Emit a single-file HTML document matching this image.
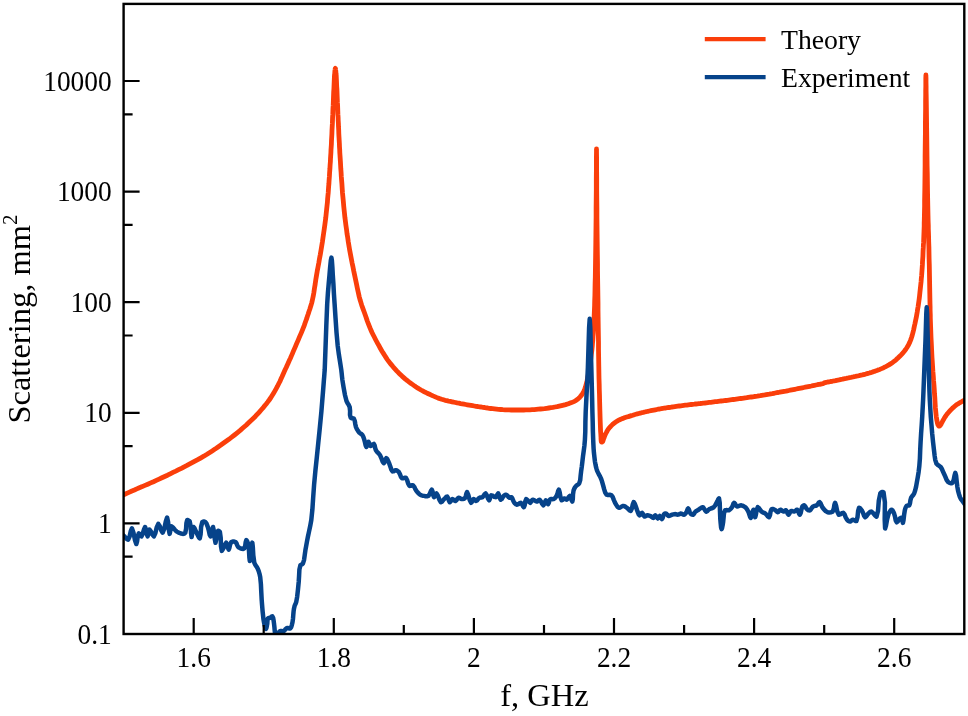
<!DOCTYPE html>
<html lang="en"><head><meta charset="utf-8"><title>Scattering vs frequency</title>
<style>html,body{margin:0;padding:0;background:#fff;}svg{display:block;}text{font-family:"Liberation Serif","Times New Roman",serif;fill:#000;}</style></head><body>
<svg width="968" height="716" viewBox="0 0 968 716">
<rect width="968" height="716" fill="#fff"/>
<defs><clipPath id="c"><rect x="123.6" y="3.9" width="840.7" height="630.1"/></clipPath></defs>
<g clip-path="url(#c)" fill="none" stroke-linejoin="round" stroke-linecap="round" stroke-width="4.8">
<path d="M121.0,495.8 L121.4,495.6 L121.8,495.5 L122.2,495.3 L122.7,495.1 L123.1,494.9 L123.7,494.7 L125.3,494.0 L127.3,493.1 L129.5,492.1 L131.9,491.0 L134.4,490.0 L136.8,488.9 L139.4,487.7 L142.2,486.6 L145.0,485.4 L147.8,484.2 L150.7,482.9 L153.5,481.7 L156.3,480.4 L159.1,479.1 L161.9,477.8 L164.7,476.5 L167.5,475.2 L170.2,473.8 L173.0,472.4 L175.8,471.1 L178.6,469.7 L181.4,468.3 L184.2,466.8 L187.0,465.4 L189.8,463.9 L192.6,462.4 L195.4,460.9 L198.2,459.4 L201.0,457.8 L203.8,456.2 L206.6,454.5 L209.4,452.7 L212.2,450.9 L215.0,449.1 L217.7,447.2 L220.5,445.3 L223.3,443.3 L226.1,441.3 L228.9,439.3 L231.7,437.2 L234.5,435.0 L237.2,432.8 L240.2,430.4 L243.1,427.8 L246.1,425.2 L248.9,422.5 L251.6,420.0 L254.0,417.7 L255.5,416.2 L256.9,414.7 L258.2,413.3 L259.5,411.9 L260.7,410.5 L262.0,409.0 L263.5,407.3 L264.9,405.5 L266.4,403.7 L267.8,401.9 L269.2,400.0 L270.6,398.0 L272.0,395.8 L273.4,393.5 L274.8,391.1 L276.2,388.6 L277.5,386.2 L278.7,383.8 L279.9,381.5 L280.9,379.1 L282.0,376.8 L283.0,374.5 L284.1,372.1 L285.1,369.8 L286.2,367.5 L287.2,365.2 L288.3,362.9 L289.3,360.5 L290.4,358.2 L291.4,355.9 L292.4,353.6 L293.4,351.2 L294.4,348.9 L295.4,346.6 L296.4,344.2 L297.4,341.9 L298.4,339.6 L299.4,337.2 L300.4,334.9 L301.4,332.6 L302.4,330.2 L303.3,327.9 L304.2,325.6 L305.0,323.3 L305.8,321.0 L306.7,318.6 L307.4,316.3 L308.2,314.0 L308.9,311.7 L309.7,309.5 L310.4,307.3 L311.1,305.0 L311.8,302.6 L312.4,300.0 L313.2,296.3 L313.9,292.4 L314.5,288.2 L315.2,284.0 L315.8,279.7 L316.5,275.5 L317.2,271.3 L318.0,267.1 L318.8,262.9 L319.5,258.7 L320.3,254.5 L321.0,250.3 L321.7,246.1 L322.4,241.9 L323.0,237.7 L323.6,233.5 L324.2,229.3 L324.8,225.2 L325.3,221.3 L325.8,217.4 L326.2,213.5 L326.6,209.7 L327.0,205.9 L327.4,202.3 L327.6,199.1 L327.9,196.0 L328.2,193.0 L328.4,190.0 L328.6,187.0 L328.9,183.8 L329.1,180.2 L329.4,176.4 L329.6,172.6 L329.9,168.8 L330.1,165.1 L330.4,161.5 L330.5,158.5 L330.7,155.5 L330.9,152.6 L331.0,149.7 L331.2,146.8 L331.4,143.8 L331.5,140.5 L331.7,137.1 L331.9,133.6 L332.0,130.2 L332.2,126.7 L332.4,123.4 L332.5,120.3 L332.6,117.2 L332.8,114.2 L332.9,111.1 L333.0,108.2 L333.2,105.2 L333.3,102.4 L333.4,99.7 L333.5,97.0 L333.6,94.3 L333.7,91.6 L333.9,89.0 L334.0,86.6 L334.1,84.1 L334.2,81.7 L334.3,79.4 L334.4,77.2 L334.5,75.2 L334.7,73.8 L334.8,72.3 L334.9,70.8 L335.1,69.6 L335.2,68.7 L335.4,68.4 L335.5,68.7 L335.6,69.6 L335.8,70.8 L335.9,72.3 L336.0,73.8 L336.2,75.2 L336.3,77.2 L336.4,79.4 L336.5,81.7 L336.6,84.1 L336.7,86.6 L336.9,89.0 L337.0,91.6 L337.1,94.3 L337.2,97.0 L337.3,99.7 L337.4,102.4 L337.6,105.2 L337.7,108.2 L337.8,111.1 L337.9,114.2 L338.1,117.2 L338.2,120.3 L338.4,123.4 L338.5,126.7 L338.7,130.2 L338.8,133.6 L339.0,137.1 L339.2,140.5 L339.4,143.8 L339.5,146.8 L339.7,149.7 L339.8,152.6 L340.0,155.5 L340.2,158.5 L340.4,161.5 L340.6,165.1 L340.8,168.8 L341.1,172.6 L341.3,176.4 L341.6,180.2 L341.9,183.8 L342.1,187.0 L342.3,190.0 L342.5,193.0 L342.8,196.0 L343.1,199.1 L343.4,202.3 L343.7,205.9 L344.1,209.7 L344.5,213.5 L344.9,217.4 L345.4,221.3 L345.9,225.2 L346.5,229.3 L347.0,233.5 L347.7,237.7 L348.3,241.9 L349.0,246.1 L349.7,250.3 L350.5,254.5 L351.3,258.7 L352.1,262.9 L353.0,267.1 L353.8,271.3 L354.7,275.5 L355.6,279.7 L356.5,284.1 L357.4,288.4 L358.3,292.6 L359.2,296.6 L360.2,300.3 L361.0,302.8 L361.7,305.2 L362.5,307.4 L363.3,309.6 L364.1,311.8 L364.9,314.0 L365.7,316.3 L366.5,318.6 L367.3,321.0 L368.2,323.3 L369.1,325.6 L370.0,327.9 L371.0,330.2 L372.0,332.5 L373.1,334.7 L374.3,337.0 L375.4,339.2 L376.6,341.5 L377.9,343.9 L379.3,346.3 L380.6,348.8 L382.0,351.2 L383.4,353.4 L384.7,355.5 L385.6,356.9 L386.4,358.2 L387.2,359.4 L388.1,360.6 L389.0,361.8 L390.0,363.1 L391.5,364.9 L393.1,366.8 L394.9,368.8 L396.7,370.8 L398.5,372.7 L400.3,374.5 L402.0,376.1 L403.7,377.6 L405.4,379.1 L407.2,380.5 L408.9,381.9 L410.7,383.2 L412.4,384.4 L414.1,385.6 L415.8,386.8 L417.5,387.9 L419.3,389.0 L421.0,390.0 L422.7,390.9 L424.4,391.8 L426.1,392.7 L427.8,393.5 L429.6,394.3 L431.3,395.1 L433.0,395.9 L434.7,396.6 L436.5,397.4 L438.2,398.1 L440.0,398.7 L441.7,399.3 L443.4,399.8 L445.1,400.3 L446.8,400.7 L448.6,401.1 L450.3,401.4 L452.0,401.8 L453.7,402.2 L455.4,402.5 L457.1,402.9 L458.9,403.2 L460.6,403.6 L462.3,403.9 L464.0,404.2 L465.7,404.5 L467.4,404.8 L469.2,405.1 L470.9,405.4 L472.6,405.7 L474.3,406.0 L476.1,406.3 L477.8,406.5 L479.6,406.8 L481.3,407.0 L483.0,407.3 L484.6,407.5 L486.1,407.8 L487.7,408.0 L489.2,408.3 L490.8,408.5 L492.5,408.7 L494.5,408.9 L496.5,409.1 L498.6,409.3 L500.8,409.5 L502.9,409.7 L505.0,409.8 L507.1,409.9 L509.2,409.9 L511.2,410.0 L513.3,410.0 L515.4,410.0 L517.5,410.0 L519.6,410.0 L521.7,410.0 L523.8,410.0 L525.8,409.9 L527.9,409.9 L530.0,409.8 L532.1,409.7 L534.2,409.6 L536.3,409.4 L538.3,409.2 L540.4,409.0 L542.5,408.8 L544.6,408.6 L546.7,408.3 L548.8,408.0 L550.8,407.7 L552.9,407.4 L555.0,407.0 L557.1,406.6 L559.3,406.1 L561.5,405.6 L563.6,405.1 L565.6,404.6 L567.5,404.0 L568.9,403.6 L570.2,403.1 L571.5,402.6 L572.7,402.1 L573.9,401.6 L575.0,401.0 L575.9,400.4 L576.8,399.8 L577.7,399.2 L578.5,398.5 L579.3,397.8 L580.0,397.0 L580.7,396.2 L581.4,395.3 L582.0,394.4 L582.6,393.5 L583.2,392.5 L583.8,391.5 L584.3,390.2 L584.8,388.9 L585.3,387.5 L585.7,386.0 L586.1,384.5 L586.5,383.0 L587.0,381.1 L587.4,379.2 L587.8,377.2 L588.2,375.2 L588.6,373.1 L589.0,371.0 L589.4,368.7 L589.7,366.5 L590.1,364.2 L590.4,361.8 L590.7,359.4 L591.0,357.0 L591.3,354.3 L591.7,351.5 L592.0,348.7 L592.3,345.8 L592.5,342.9 L592.8,340.0 L593.0,336.8 L593.3,333.6 L593.5,330.4 L593.7,327.0 L593.8,323.6 L594.0,320.0 L594.2,315.4 L594.4,310.6 L594.6,305.6 L594.7,300.5 L594.9,295.3 L595.0,290.0 L595.1,283.7 L595.3,277.3 L595.4,270.6 L595.5,263.9 L595.6,257.0 L595.7,250.0 L595.8,242.0 L595.9,233.8 L596.0,225.4 L596.1,216.9 L596.1,208.4 L596.2,200.0 L596.3,190.3 L596.3,179.3 L596.4,168.2 L596.4,158.5 L596.5,151.6 L596.5,149.0 L596.5,151.6 L596.6,158.5 L596.6,168.2 L596.7,179.3 L596.7,190.3 L596.8,200.0 L596.9,208.4 L596.9,216.9 L597.0,225.4 L597.1,233.8 L597.2,242.0 L597.3,250.0 L597.4,256.9 L597.5,263.7 L597.5,270.3 L597.6,276.8 L597.7,283.4 L597.8,290.0 L597.9,296.7 L598.0,303.4 L598.0,310.1 L598.1,316.8 L598.2,323.4 L598.3,330.0 L598.4,336.3 L598.5,342.5 L598.5,348.7 L598.6,354.9 L598.7,361.0 L598.8,367.0 L598.9,372.7 L599.0,378.4 L599.2,384.1 L599.3,389.6 L599.5,395.0 L599.6,400.0 L599.7,403.8 L599.8,407.5 L599.9,411.0 L600.0,414.4 L600.1,417.8 L600.2,421.0 L600.3,423.7 L600.4,426.4 L600.5,429.1 L600.6,431.6 L600.8,433.9 L600.9,436.0 L601.0,437.3 L601.0,438.6 L601.1,439.9 L601.2,440.9 L601.3,441.7 L601.6,442.1 L601.7,442.1 L601.9,442.1 L602.1,442.0 L602.3,441.9 L602.4,441.8 L602.6,441.6 L602.8,441.3 L603.0,440.9 L603.1,440.4 L603.3,439.9 L603.4,439.3 L603.6,438.8 L603.9,438.1 L604.2,437.3 L604.5,436.5 L604.8,435.7 L605.1,434.9 L605.5,434.1 L605.9,433.2 L606.4,432.4 L606.9,431.5 L607.4,430.6 L607.9,429.8 L608.4,429.0 L608.9,428.4 L609.4,427.8 L609.9,427.2 L610.4,426.7 L610.9,426.1 L611.4,425.6 L611.9,425.1 L612.4,424.6 L612.9,424.2 L613.4,423.7 L614.0,423.3 L614.6,422.8 L615.5,422.2 L616.4,421.6 L617.5,420.9 L618.5,420.3 L619.7,419.8 L620.8,419.2 L622.2,418.6 L623.7,418.1 L625.2,417.5 L626.7,417.0 L628.3,416.6 L629.8,416.1 L631.3,415.6 L632.8,415.2 L634.3,414.7 L635.8,414.3 L637.3,413.9 L638.8,413.5 L640.3,413.1 L641.8,412.7 L643.3,412.4 L644.8,412.0 L646.3,411.7 L647.8,411.3 L649.3,411.0 L650.8,410.7 L652.3,410.4 L653.8,410.1 L655.3,409.8 L656.8,409.5 L658.3,409.2 L659.8,409.0 L661.3,408.7 L662.8,408.4 L664.3,408.2 L665.8,408.0 L667.3,407.7 L668.8,407.5 L670.3,407.3 L671.8,407.0 L673.3,406.8 L674.8,406.6 L676.3,406.4 L677.8,406.2 L679.3,406.0 L680.8,405.8 L682.3,405.6 L683.8,405.4 L685.3,405.2 L686.8,405.1 L688.3,404.9 L689.8,404.7 L691.3,404.5 L692.8,404.3 L694.3,404.2 L695.8,404.0 L697.3,403.8 L698.8,403.6 L700.3,403.5 L701.8,403.3 L703.3,403.1 L704.8,403.0 L706.3,402.8 L707.8,402.6 L709.3,402.4 L710.8,402.3 L712.3,402.1 L713.8,401.9 L715.3,401.7 L716.8,401.6 L718.3,401.4 L719.8,401.2 L721.3,401.0 L722.8,400.9 L724.3,400.7 L725.8,400.5 L727.3,400.3 L728.8,400.1 L730.3,399.9 L731.8,399.7 L733.3,399.5 L734.8,399.3 L736.3,399.1 L737.8,398.9 L739.3,398.7 L740.8,398.5 L742.3,398.3 L743.8,398.1 L745.3,397.9 L746.8,397.7 L748.3,397.4 L749.8,397.2 L751.3,397.0 L752.8,396.8 L754.3,396.5 L755.8,396.3 L757.3,396.1 L758.8,395.8 L760.3,395.6 L761.8,395.3 L763.3,395.1 L764.8,394.9 L766.3,394.6 L767.8,394.3 L769.3,394.1 L770.8,393.8 L772.3,393.6 L773.8,393.3 L775.3,393.0 L776.8,392.7 L778.3,392.5 L779.8,392.2 L781.3,391.9 L782.8,391.6 L784.3,391.3 L785.8,391.1 L787.3,390.8 L788.8,390.5 L790.3,390.2 L791.8,389.9 L793.3,389.6 L794.8,389.3 L796.3,389.0 L797.8,388.7 L799.3,388.4 L800.8,388.1 L802.3,387.8 L803.8,387.5 L805.3,387.2 L806.8,386.9 L808.3,386.6 L809.8,386.3 L811.3,386.0 L812.9,385.6 L814.5,385.3 L816.0,385.0 L817.5,384.7 L818.8,384.4 L819.7,384.3 L820.5,384.1 L821.3,384.0 L822.0,383.8 L822.7,383.7 L823.2,383.5 L823.4,383.4 L823.6,383.3 L823.7,383.2 L823.8,383.1 L824.0,383.0 L824.2,382.9 L825.1,382.6 L826.3,382.3 L827.7,382.0 L829.2,381.8 L830.6,381.5 L832.0,381.3 L833.2,381.0 L834.4,380.8 L835.5,380.6 L836.7,380.3 L837.8,380.1 L839.0,379.9 L840.2,379.6 L841.3,379.4 L842.5,379.2 L843.7,378.9 L844.8,378.7 L846.0,378.5 L847.2,378.2 L848.3,378.0 L849.5,377.7 L850.7,377.5 L851.8,377.2 L853.0,377.0 L854.2,376.7 L855.3,376.5 L856.5,376.2 L857.7,376.0 L858.8,375.7 L860.0,375.4 L861.2,375.1 L862.3,374.9 L863.5,374.6 L864.7,374.3 L865.8,374.0 L867.0,373.6 L868.2,373.3 L869.3,373.0 L870.5,372.6 L871.7,372.3 L872.8,371.9 L874.0,371.5 L875.2,371.1 L876.3,370.7 L877.5,370.3 L878.7,369.8 L879.8,369.4 L881.0,368.9 L882.2,368.4 L883.4,367.8 L884.6,367.2 L885.8,366.6 L886.9,366.0 L888.0,365.4 L888.9,364.9 L889.7,364.4 L890.5,363.9 L891.4,363.4 L892.2,362.8 L893.0,362.2 L894.0,361.4 L895.1,360.6 L896.1,359.7 L897.1,358.7 L898.2,357.8 L899.2,356.8 L900.3,355.7 L901.4,354.6 L902.5,353.4 L903.5,352.2 L904.5,351.0 L905.4,349.8 L906.1,348.8 L906.8,347.7 L907.4,346.7 L908.0,345.7 L908.6,344.7 L909.1,343.6 L909.6,342.6 L910.0,341.6 L910.4,340.7 L910.8,339.7 L911.2,338.5 L911.6,337.3 L912.3,335.0 L913.0,332.3 L913.7,329.5 L914.3,326.5 L915.0,323.5 L915.6,320.6 L916.2,317.8 L916.7,315.0 L917.2,312.2 L917.6,309.4 L918.1,306.6 L918.5,303.8 L918.9,301.0 L919.3,298.2 L919.6,295.4 L919.9,292.6 L920.2,289.8 L920.5,287.0 L920.8,284.2 L921.1,281.4 L921.3,278.7 L921.6,275.9 L921.8,273.1 L922.0,270.3 L922.2,267.5 L922.4,264.7 L922.5,261.9 L922.7,259.1 L922.9,256.3 L923.0,253.5 L923.1,250.7 L923.3,247.9 L923.4,245.2 L923.6,242.4 L923.7,239.6 L923.8,236.8 L923.9,234.1 L924.0,231.4 L924.1,228.7 L924.2,226.0 L924.2,223.1 L924.3,220.0 L924.4,215.6 L924.5,210.9 L924.6,206.0 L924.6,200.9 L924.7,195.5 L924.8,190.0 L924.9,182.4 L925.0,174.2 L925.1,165.6 L925.1,156.9 L925.2,148.3 L925.3,140.0 L925.4,132.2 L925.4,124.2 L925.5,116.2 L925.6,108.6 L925.6,101.4 L925.7,95.0 L925.7,90.7 L925.8,86.3 L925.8,82.0 L925.8,78.4 L925.9,75.9 L925.9,75.0 L925.9,75.9 L926.0,78.4 L926.0,82.0 L926.1,86.3 L926.1,90.7 L926.2,95.0 L926.3,101.4 L926.4,108.6 L926.5,116.2 L926.6,124.2 L926.7,132.2 L926.8,140.0 L926.9,148.3 L927.0,156.9 L927.1,165.6 L927.3,174.2 L927.4,182.4 L927.5,190.0 L927.6,195.5 L927.7,200.9 L927.8,206.0 L927.9,210.9 L928.0,215.6 L928.1,220.0 L928.2,223.0 L928.3,225.7 L928.3,228.3 L928.4,231.0 L928.5,233.7 L928.6,236.8 L928.7,241.7 L928.9,247.1 L929.0,252.8 L929.1,258.7 L929.3,264.6 L929.4,270.3 L929.5,276.0 L929.6,281.9 L929.7,287.8 L929.8,293.5 L929.9,298.9 L930.0,303.8 L930.1,306.9 L930.1,309.8 L930.2,312.6 L930.3,315.2 L930.3,317.9 L930.4,320.6 L930.5,323.3 L930.6,326.1 L930.7,328.8 L930.8,331.5 L930.9,334.3 L931.0,337.3 L931.2,341.1 L931.4,345.1 L931.6,349.3 L931.8,353.5 L932.0,357.7 L932.3,362.0 L932.6,366.6 L932.9,371.4 L933.3,376.1 L933.6,380.9 L934.0,385.5 L934.3,390.0 L934.5,393.8 L934.8,397.5 L935.0,401.1 L935.2,404.6 L935.4,408.0 L935.7,411.0 L935.9,413.0 L936.1,415.0 L936.3,416.8 L936.6,418.5 L936.8,420.1 L937.1,421.5 L937.3,422.3 L937.4,423.0 L937.6,423.7 L937.8,424.3 L938.0,424.9 L938.2,425.3 L938.4,425.5 L938.5,425.7 L938.7,425.9 L938.9,426.1 L939.0,426.2 L939.2,426.2 L939.4,426.2 L939.6,426.1 L939.8,425.9 L939.9,425.7 L940.1,425.5 L940.3,425.3 L940.5,425.0 L940.7,424.7 L940.9,424.4 L941.1,424.1 L941.3,423.7 L941.5,423.3 L941.9,422.5 L942.4,421.6 L942.9,420.7 L943.4,419.7 L944.0,418.7 L944.5,417.8 L945.0,417.0 L945.6,416.2 L946.1,415.4 L946.7,414.6 L947.3,413.8 L948.0,413.0 L949.0,411.9 L950.1,410.7 L951.3,409.4 L952.5,408.2 L953.8,407.1 L955.0,406.0 L956.1,405.1 L957.3,404.3 L958.5,403.6 L959.7,402.8 L960.8,402.2 L962.0,401.5 L963.0,400.9 L964.0,400.4 L965.0,399.9 L966.0,399.5 L967.0,399.0 L968.0,398.5" stroke="#FA3E0A"/>
<path d="M122.0,534.0 L122.8,534.8 L123.6,535.6 L124.4,536.4 L125.6,537.7 L127.0,539.1 L128.2,539.6 L129.6,536.5 L130.8,531.1 L131.9,528.3 L133.4,532.4 L134.9,539.9 L136.3,544.0 L137.1,541.3 L137.8,536.2 L138.8,533.3 L139.6,534.1 L140.5,535.6 L141.4,536.4 L142.7,533.9 L144.0,529.4 L145.1,527.0 L146.0,529.5 L146.8,534.0 L147.6,536.4 L148.2,534.6 L148.7,531.4 L149.5,529.5 L150.8,531.3 L152.4,534.6 L153.9,536.4 L155.4,533.1 L156.8,527.1 L158.3,523.9 L159.8,526.2 L161.3,530.5 L162.7,532.7 L164.3,528.7 L165.8,521.4 L167.1,517.6 L168.1,521.9 L168.8,529.7 L169.6,533.9 L170.1,532.0 L170.6,528.5 L171.5,526.4 L172.9,527.3 L174.6,529.5 L176.5,531.4 L178.6,532.6 L180.9,533.5 L182.8,533.9 L183.8,533.8 L184.6,533.4 L185.3,532.7 L186.1,528.7 L186.4,523.3 L187.2,520.1 L188.0,520.1 L188.9,520.6 L189.7,521.4 L190.7,526.5 L191.1,533.5 L191.6,537.1 L192.1,534.5 L192.7,529.7 L193.5,527.0 L194.4,528.0 L195.5,530.4 L196.6,532.7 L197.7,535.0 L198.8,537.3 L199.8,538.3 L200.6,534.3 L201.1,526.9 L202.3,522.0 L203.3,521.6 L204.4,521.6 L205.4,522.0 L206.4,523.3 L207.2,525.4 L208.0,527.6 L208.9,531.0 L209.7,534.7 L210.5,536.4 L211.4,534.0 L212.2,529.4 L213.0,527.0 L213.9,531.1 L214.7,538.6 L215.5,542.7 L216.2,539.7 L217.0,534.1 L218.0,530.8 L218.6,530.8 L219.3,531.3 L219.9,532.0 L220.7,537.9 L221.0,546.4 L221.8,550.9 L223.1,548.8 L224.8,544.8 L226.2,542.7 L227.1,544.5 L227.9,547.8 L228.7,549.6 L229.4,547.9 L230.1,544.5 L231.2,542.1 L232.6,541.6 L234.2,541.6 L235.6,542.1 L236.5,543.4 L237.2,545.3 L238.0,546.8 L238.9,547.6 L239.9,548.1 L240.9,548.5 L242.0,548.8 L243.2,548.9 L244.2,548.5 L245.2,545.9 L245.7,542.1 L246.3,540.1 L247.0,540.9 L247.8,542.8 L248.4,545.1 L249.0,550.9 L249.4,557.8 L249.8,561.1 L250.6,556.3 L251.5,547.4 L252.3,542.6 L252.8,546.8 L253.3,555.4 L254.3,562.7 L255.4,564.9 L256.6,566.7 L257.7,568.6 L258.7,571.1 L259.5,573.8 L260.2,577.0 L260.9,584.1 L261.3,592.5 L261.7,600.0 L262.0,604.0 L262.3,607.6 L262.6,611.2 L263.0,615.0 L263.4,618.8 L264.0,622.3 L264.6,625.2 L265.3,627.8 L265.9,629.0 L266.4,628.0 L266.9,625.7 L267.3,623.5 L267.4,621.6 L267.5,619.7 L267.9,618.4 L268.5,618.1 L269.3,618.1 L270.1,617.9 L270.9,617.3 L271.6,616.5 L272.3,616.2 L273.1,617.7 L273.6,620.5 L274.0,623.5 L274.4,627.0 L274.7,630.6 L275.1,634.0 L275.5,636.6 L275.9,638.9 L276.3,640.0 L276.7,638.8 L277.2,636.3 L277.9,634.0 L278.6,632.8 L279.3,631.7 L280.2,631.0 L281.2,631.0 L282.4,631.3 L283.5,631.3 L284.7,630.3 L285.7,628.9 L286.9,627.9 L288.0,628.0 L289.2,628.5 L290.2,628.5 L291.2,627.1 L291.9,624.8 L292.5,622.3 L293.0,618.7 L293.3,614.7 L293.6,611.2 L293.9,609.1 L294.3,607.3 L294.7,605.6 L295.2,604.5 L295.7,603.5 L296.2,602.1 L297.2,596.6 L298.0,589.2 L298.7,582.0 L299.1,575.7 L299.4,569.5 L300.4,565.3 L301.2,564.6 L302.1,564.3 L302.9,563.6 L304.0,560.1 L304.7,555.2 L305.4,550.2 L306.2,545.8 L307.0,541.4 L307.9,536.8 L309.0,531.6 L310.2,526.1 L311.3,520.0 L312.4,509.3 L313.2,497.2 L314.1,484.7 L315.4,470.8 L316.9,456.5 L318.3,442.8 L319.4,432.0 L320.4,421.7 L321.4,411.4 L322.3,400.3 L323.2,389.2 L323.9,380.0 L324.2,376.6 L324.4,373.8 L324.7,370.0 L325.4,351.2 L326.3,326.0 L327.2,303.8 L327.9,293.1 L328.7,283.6 L329.5,275.0 L330.1,267.6 L330.8,260.7 L331.4,257.6 L331.9,260.7 L332.4,267.6 L332.8,275.0 L333.4,283.9 L333.9,293.5 L334.6,303.8 L335.5,317.6 L336.5,332.3 L337.7,345.7 L338.9,354.7 L340.2,362.9 L341.3,370.0 L341.7,373.5 L342.0,376.6 L342.4,380.0 L343.5,386.9 L344.9,394.7 L346.5,401.0 L347.6,403.3 L348.8,405.1 L349.7,407.2 L350.1,410.9 L350.0,414.9 L350.7,417.7 L351.7,418.2 L352.9,418.3 L353.9,418.7 L354.8,421.0 L355.3,424.2 L356.0,427.1 L356.9,429.1 L358.0,430.9 L359.1,432.4 L360.2,433.3 L361.3,434.0 L362.3,434.9 L363.1,436.3 L363.7,437.9 L364.3,439.7 L365.0,442.5 L365.7,445.6 L366.4,447.0 L367.1,445.7 L367.8,443.2 L368.5,441.8 L369.1,442.8 L369.8,444.8 L370.6,446.0 L371.6,445.5 L372.8,444.4 L373.8,443.9 L374.6,445.3 L375.1,447.8 L375.9,450.2 L377.1,451.9 L378.6,453.4 L380.0,455.1 L381.4,458.2 L382.6,461.6 L383.8,463.2 L384.7,461.9 L385.5,459.5 L386.3,458.2 L387.3,459.2 L388.4,461.5 L389.4,463.9 L390.4,466.7 L391.4,469.7 L392.6,471.4 L393.6,471.2 L394.6,470.6 L395.7,470.2 L396.8,470.5 L397.8,471.1 L398.8,472.0 L399.9,474.1 L400.8,476.6 L402.0,478.3 L403.2,478.3 L404.6,477.7 L405.8,477.7 L407.1,480.0 L408.2,483.6 L409.5,485.9 L410.6,485.8 L411.8,485.3 L412.9,485.2 L414.1,486.6 L415.2,488.8 L416.4,490.9 L417.6,492.4 L418.9,493.7 L420.2,494.7 L421.4,495.3 L422.7,495.7 L424.0,495.9 L425.5,496.2 L427.0,496.3 L428.4,495.9 L429.8,493.8 L430.9,491.0 L431.8,489.6 L432.6,491.6 L433.2,495.2 L434.0,497.2 L434.8,496.3 L435.6,494.4 L436.5,493.4 L437.9,495.7 L439.4,499.8 L440.9,502.2 L442.0,501.7 L443.0,500.4 L444.1,499.1 L445.2,498.0 L446.2,496.9 L447.2,496.5 L448.1,498.1 L448.9,500.7 L449.7,502.2 L450.5,501.5 L451.4,500.0 L452.3,499.1 L453.3,499.6 L454.4,500.5 L455.4,501.0 L456.4,500.2 L457.4,498.7 L458.5,497.8 L459.5,498.0 L460.6,498.7 L461.7,499.1 L462.8,499.1 L463.9,498.9 L464.8,498.4 L465.7,496.3 L466.4,493.5 L467.1,492.1 L468.3,494.8 L469.7,500.0 L471.1,502.8 L471.9,501.9 L472.7,500.1 L473.6,499.1 L474.4,499.5 L475.2,500.5 L476.1,501.0 L477.1,500.3 L478.2,498.9 L479.3,497.8 L480.3,497.5 L481.4,497.5 L482.4,497.2 L483.5,495.9 L484.6,494.2 L485.6,493.4 L486.8,495.3 L488.0,498.6 L489.1,500.3 L489.8,499.1 L490.3,496.8 L491.2,495.3 L492.6,495.7 L494.3,496.8 L495.7,497.2 L496.7,496.0 L497.5,494.3 L498.2,493.4 L499.0,495.0 L499.8,498.0 L500.7,499.7 L501.7,499.0 L502.7,497.3 L503.8,495.9 L504.6,495.3 L505.5,494.8 L506.3,494.7 L507.4,495.5 L508.4,496.9 L509.5,497.8 L510.2,497.7 L510.9,497.3 L511.6,497.2 L512.4,498.4 L513.1,500.4 L513.9,502.2 L514.8,503.3 L515.9,504.2 L517.0,504.7 L518.3,504.2 L519.6,503.2 L520.8,502.8 L522.0,504.1 L523.0,506.2 L523.9,507.2 L524.7,505.1 L525.3,501.3 L526.2,499.1 L527.4,500.0 L528.9,501.8 L530.2,502.8 L531.0,502.0 L531.8,500.6 L532.7,499.7 L534.1,500.1 L535.7,501.1 L537.1,501.6 L538.0,501.0 L538.8,500.1 L539.6,499.7 L540.9,501.3 L542.2,503.9 L543.4,505.3 L544.3,504.0 L545.1,501.6 L545.9,500.3 L546.6,501.3 L547.4,503.1 L548.1,504.1 L548.8,502.9 L549.4,500.7 L550.3,499.1 L551.3,498.9 L552.4,499.2 L553.5,499.1 L554.6,498.4 L555.7,497.2 L556.6,495.9 L557.5,493.5 L558.2,490.8 L558.9,489.6 L559.7,492.3 L560.5,497.3 L561.6,500.3 L562.4,499.9 L563.2,499.0 L564.1,498.4 L565.0,498.7 L565.8,499.4 L566.7,499.7 L567.8,498.6 L568.8,496.8 L569.8,495.9 L570.8,497.5 L571.6,500.2 L572.3,501.6 L572.8,499.2 L573.0,494.5 L573.6,490.3 L574.3,488.6 L575.1,487.1 L576.1,485.9 L577.1,485.1 L578.2,484.4 L579.2,483.4 L580.2,480.2 L580.6,475.9 L581.1,471.4 L581.8,466.5 L582.4,461.4 L583.0,456.3 L583.7,451.1 L584.4,445.8 L584.9,440.0 L585.3,431.4 L585.4,421.9 L585.7,411.7 L586.4,397.6 L587.2,382.4 L587.9,367.0 L588.5,347.5 L589.1,327.8 L589.7,318.8 L590.3,327.8 L590.8,347.5 L591.3,367.0 L591.7,382.4 L592.1,397.6 L592.4,411.7 L592.7,422.0 L592.9,431.6 L593.2,440.0 L593.4,444.6 L593.6,448.6 L593.9,452.6 L594.4,456.9 L594.9,461.3 L595.6,465.1 L596.1,467.4 L596.7,469.4 L597.4,471.4 L598.6,473.9 L600.0,476.4 L601.2,479.0 L602.0,481.4 L602.7,483.9 L603.4,486.4 L604.2,489.4 L605.2,492.5 L606.5,494.6 L608.0,495.0 L609.7,494.8 L611.3,495.2 L612.8,497.2 L613.9,500.1 L615.1,502.8 L616.3,504.9 L617.4,506.7 L618.8,507.8 L620.2,507.5 L621.7,506.5 L623.2,505.9 L624.5,506.2 L625.8,507.0 L627.0,507.8 L628.3,509.0 L629.6,510.4 L630.8,510.9 L631.9,508.4 L632.8,504.3 L633.7,502.1 L634.8,503.7 L636.0,507.1 L637.1,510.3 L637.9,512.4 L638.7,514.4 L639.6,515.3 L640.4,514.7 L641.3,513.4 L642.1,512.8 L642.9,513.8 L643.7,515.5 L644.6,516.6 L645.4,516.4 L646.2,515.7 L647.1,515.3 L648.1,515.3 L649.2,515.6 L650.3,516.0 L651.4,516.7 L652.5,517.6 L653.4,517.9 L654.1,517.2 L654.7,515.9 L655.3,515.3 L656.1,516.1 L657.0,517.7 L657.8,518.5 L658.5,517.8 L659.1,516.6 L659.7,516.0 L660.4,516.8 L661.2,518.3 L661.9,519.1 L662.6,518.0 L663.3,515.7 L664.1,514.1 L664.7,513.7 L665.4,513.5 L666.0,513.5 L666.8,514.2 L667.6,515.3 L668.5,516.0 L669.7,515.8 L671.0,515.2 L672.3,514.7 L673.4,514.4 L674.4,514.2 L675.4,514.1 L676.2,514.3 L677.1,514.6 L677.9,514.7 L678.9,514.4 L680.0,513.8 L681.0,513.5 L682.1,513.9 L683.2,514.5 L684.2,514.7 L685.1,514.0 L686.0,512.8 L686.7,511.6 L687.3,510.3 L687.7,509.0 L688.2,508.4 L688.9,509.5 L689.6,511.7 L690.5,513.5 L691.3,514.2 L692.2,514.6 L693.0,514.7 L693.8,514.0 L694.6,512.7 L695.5,511.6 L696.5,510.9 L697.6,510.3 L698.6,509.7 L699.5,509.0 L700.4,508.3 L701.2,507.8 L701.8,507.5 L702.4,507.2 L703.0,507.2 L704.0,508.5 L705.1,510.5 L706.2,511.6 L707.2,511.2 L708.2,510.1 L709.3,509.1 L710.8,508.5 L712.4,508.0 L713.8,507.2 L715.0,505.7 L716.0,503.9 L716.9,502.1 L717.7,500.5 L718.4,499.0 L719.0,498.4 L719.7,502.6 L720.0,511.3 L720.3,519.1 L720.7,523.5 L721.1,527.5 L721.6,529.2 L722.1,527.9 L722.7,524.8 L723.2,521.6 L723.6,517.5 L724.0,513.1 L725.1,510.3 L726.2,510.1 L727.6,510.3 L728.8,510.3 L730.0,509.5 L731.1,508.4 L732.0,507.2 L732.8,505.5 L733.4,503.7 L734.1,502.8 L735.0,503.6 L735.9,505.4 L737.0,506.5 L738.2,506.3 L739.5,505.7 L740.8,505.3 L742.3,505.6 L743.8,506.3 L745.2,507.2 L746.4,508.4 L747.4,510.0 L748.3,511.6 L749.2,514.1 L750.0,516.7 L750.8,517.9 L751.7,515.8 L752.6,511.8 L753.4,509.7 L754.0,511.7 L754.6,515.3 L755.2,517.2 L755.9,514.7 L756.7,509.9 L757.8,507.2 L758.9,508.0 L760.2,509.9 L761.5,511.6 L762.7,512.3 L764.0,512.8 L765.3,513.5 L766.7,514.9 L768.0,516.6 L769.1,517.2 L770.0,515.1 L770.6,511.5 L771.6,509.1 L772.6,508.9 L773.6,509.2 L774.7,509.7 L775.8,510.6 L776.9,511.7 L777.9,512.2 L778.7,511.6 L779.5,510.4 L780.4,509.7 L781.4,510.1 L782.5,511.1 L783.5,511.6 L784.4,511.2 L785.2,510.5 L786.0,510.3 L786.9,511.6 L787.7,513.6 L788.5,514.7 L789.3,513.8 L790.1,512.1 L791.1,510.9 L792.1,511.0 L793.1,511.4 L794.2,511.6 L795.3,511.0 L796.3,510.0 L797.3,509.7 L798.3,511.1 L799.0,513.5 L799.8,514.7 L800.7,512.9 L801.5,509.3 L802.4,506.5 L803.0,505.8 L803.6,505.4 L804.2,505.3 L805.2,506.3 L806.3,508.3 L807.4,509.7 L808.2,510.2 L809.1,510.4 L809.9,510.3 L810.9,509.3 L811.9,507.8 L813.0,506.5 L814.2,506.0 L815.6,505.8 L816.8,505.3 L817.8,504.1 L818.7,502.7 L819.6,502.1 L820.5,503.2 L821.4,505.4 L822.5,507.5 L824.0,509.4 L825.7,511.1 L827.5,512.2 L829.2,512.5 L831.1,512.3 L832.6,511.6 L833.8,508.7 L834.4,504.8 L835.1,502.8 L836.1,505.7 L837.2,511.2 L838.8,514.7 L840.2,514.4 L841.8,513.2 L843.2,512.8 L844.6,514.5 L845.7,517.4 L847.0,519.7 L848.0,520.7 L849.2,521.4 L850.2,521.6 L851.0,521.1 L851.8,520.2 L852.7,519.7 L853.9,520.1 L855.3,520.9 L856.4,521.0 L857.5,517.2 L858.1,511.2 L859.0,507.8 L860.0,508.2 L861.1,509.5 L862.1,510.9 L863.2,513.2 L864.1,515.9 L865.2,517.2 L866.2,516.5 L867.3,514.9 L868.4,513.5 L869.4,512.6 L870.4,511.8 L871.5,511.6 L873.2,513.1 L875.0,515.5 L876.5,516.6 L878.0,510.9 L878.8,500.6 L880.3,493.4 L881.3,492.4 L882.5,491.9 L883.5,492.1 L884.9,502.3 L884.7,519.4 L885.1,528.5 L886.0,525.5 L887.1,519.3 L888.5,514.1 L889.5,512.1 L890.6,510.4 L891.6,509.7 L892.5,510.3 L893.3,511.8 L894.1,513.5 L895.0,516.7 L895.7,520.4 L896.7,522.3 L897.7,521.5 L898.7,519.8 L899.8,518.5 L900.5,518.1 L901.1,517.8 L901.7,517.9 L902.3,519.4 L902.6,521.7 L902.9,522.9 L903.5,520.3 L904.1,514.9 L904.8,510.3 L905.3,508.5 L905.9,507.0 L906.7,505.9 L907.5,505.6 L908.4,505.6 L909.2,505.3 L910.0,503.3 L910.4,500.4 L911.1,497.8 L912.1,496.3 L913.2,495.0 L914.2,493.4 L915.2,490.3 L916.1,486.6 L916.8,482.7 L917.7,477.6 L918.6,472.1 L919.3,466.3 L919.9,458.5 L920.2,450.2 L920.6,441.9 L921.1,433.4 L921.7,424.8 L922.2,416.8 L922.5,411.1 L922.8,405.8 L923.1,400.0 L923.5,390.6 L923.9,380.3 L924.3,370.0 L924.7,360.0 L925.1,350.1 L925.5,340.0 L925.9,326.8 L926.3,313.4 L926.7,307.3 L927.1,313.4 L927.4,326.8 L927.8,340.0 L928.1,350.1 L928.5,360.0 L928.8,370.0 L929.1,380.1 L929.4,390.2 L929.8,400.0 L930.3,408.5 L930.8,416.8 L931.5,425.1 L932.2,433.8 L933.1,442.5 L934.0,450.3 L934.6,455.5 L935.3,460.1 L936.5,463.7 L937.8,465.0 L939.3,465.9 L940.7,467.0 L941.9,469.0 L942.9,471.3 L944.0,473.7 L945.3,476.7 L946.6,479.9 L948.2,482.1 L949.6,482.9 L951.1,483.3 L952.4,483.0 L953.7,479.9 L954.6,475.3 L955.3,472.9 L956.1,475.7 L956.7,481.5 L957.4,487.1 L958.1,490.8 L959.0,494.2 L960.0,497.2 L961.0,499.1 L962.2,500.7 L963.3,502.2 L964.2,503.5 L965.1,504.8 L966.0,506.0" stroke="#06438A" stroke-width="4.5"/>
</g>
<g stroke-width="4.4" fill="none"><path d="M704.8,39.1H765.6" stroke="#FA3E0A"/><path d="M704.8,77.1H765.6" stroke="#06438A"/></g>
<text x="781" y="48.9" font-size="27.7">Theory</text>
<text x="781" y="86.6" font-size="27.7">Experiment</text>
<path d="M123.6,556.7h9 M123.6,523.4h16 M123.6,446.1h9 M123.6,412.8h16 M123.6,335.5h9 M123.6,302.2h16 M123.6,224.9h9 M123.6,191.6h16 M123.6,114.3h9 M123.6,81.0h16 M193.7,634.0v-16 M263.7,634.0v-9 M333.8,634.0v-16 M403.8,634.0v-9 M473.9,634.0v-16 M544.0,634.0v-9 M614.0,634.0v-16 M684.1,634.0v-9 M754.1,634.0v-16 M824.2,634.0v-9 M894.2,634.0v-16" stroke="#000" stroke-width="2.2" fill="none"/>
<rect x="123.6" y="3.9" width="840.7" height="630.1" fill="none" stroke="#000" stroke-width="2.4"/>
<text transform="translate(111.7,643.5) scale(1,1.04)" font-size="27.4" text-anchor="end">0.1</text>
<text transform="translate(111.7,532.9) scale(1,1.04)" font-size="27.4" text-anchor="end">1</text>
<text transform="translate(111.7,422.3) scale(1,1.04)" font-size="27.4" text-anchor="end">10</text>
<text transform="translate(111.7,311.7) scale(1,1.04)" font-size="27.4" text-anchor="end">100</text>
<text transform="translate(111.7,201.1) scale(1,1.04)" font-size="27.4" text-anchor="end">1000</text>
<text transform="translate(111.7,90.5) scale(1,1.04)" font-size="27.4" text-anchor="end">10000</text>
<text transform="translate(193.7,667.2) scale(1,1.04)" font-size="27.4" text-anchor="middle">1.6</text>
<text transform="translate(333.8,667.2) scale(1,1.04)" font-size="27.4" text-anchor="middle">1.8</text>
<text transform="translate(473.9,667.2) scale(1,1.04)" font-size="27.4" text-anchor="middle">2</text>
<text transform="translate(614.0,667.2) scale(1,1.04)" font-size="27.4" text-anchor="middle">2.2</text>
<text transform="translate(754.1,667.2) scale(1,1.04)" font-size="27.4" text-anchor="middle">2.4</text>
<text transform="translate(894.2,667.2) scale(1,1.04)" font-size="27.4" text-anchor="middle">2.6</text>
<text x="544.5" y="705.9" font-size="32.5" text-anchor="middle">f, GHz</text>
<text transform="translate(30.4,423.6) rotate(-90)" font-size="32.5">Scattering, mm<tspan font-size="21" dy="-13.6">2</tspan></text>
</svg></body></html>
